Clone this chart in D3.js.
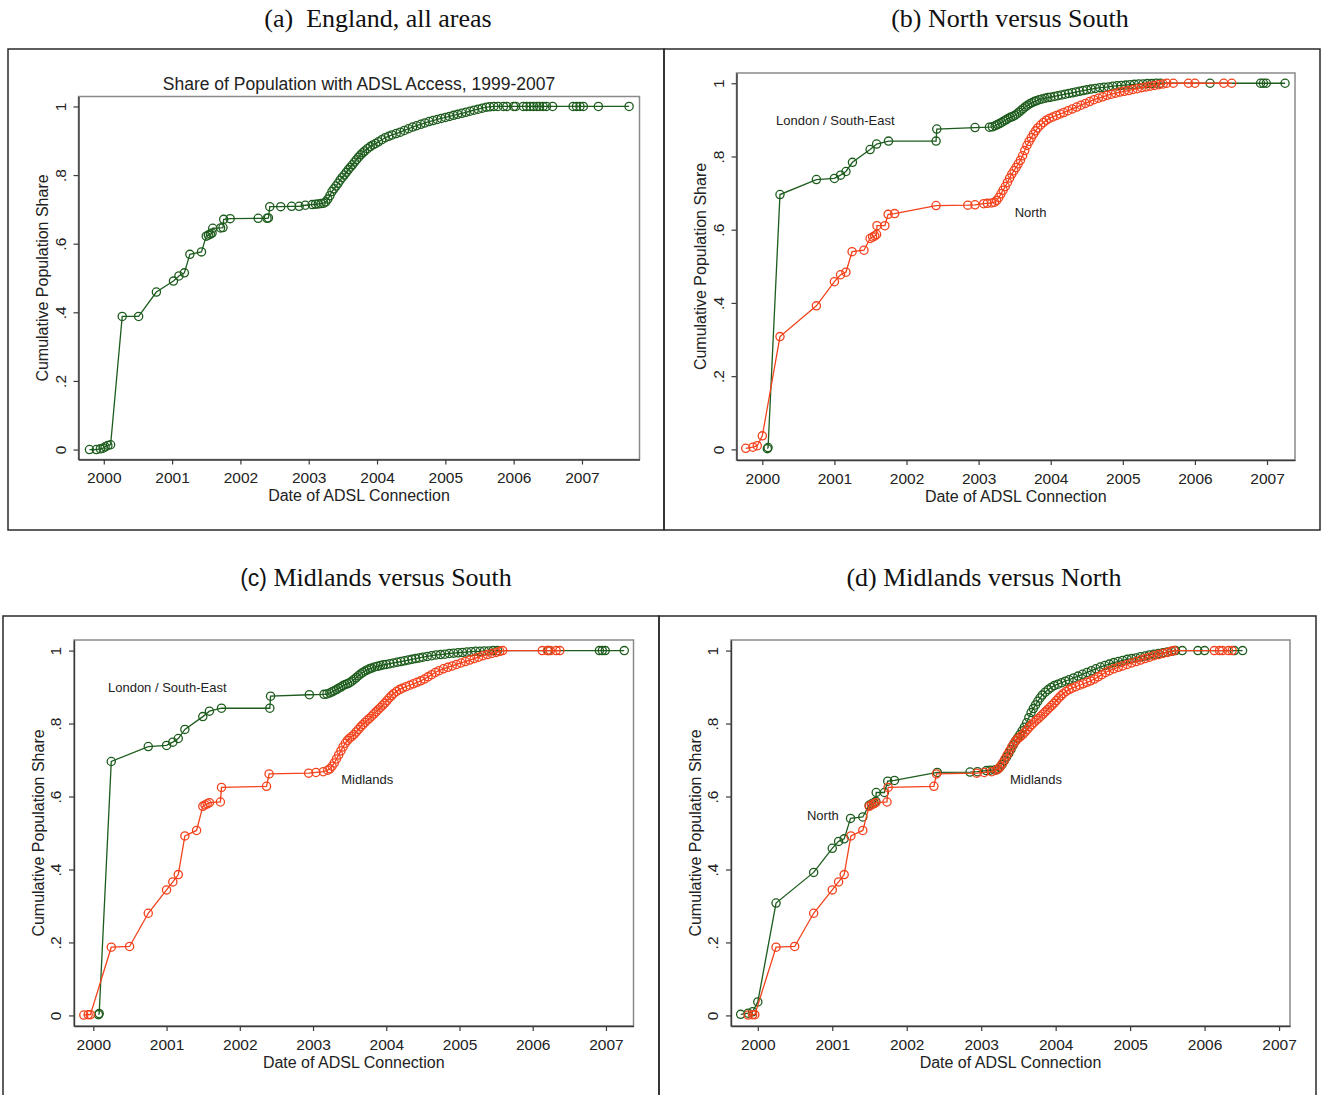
<!DOCTYPE html>
<html>
<head>
<meta charset="utf-8">
<script src="https://cdn.jsdelivr.net/npm/d3@7"></script>
<style>
  body { margin: 0; background: #fff; }
  svg { display: block; }
</style>
</head>
<body>
<svg id="fig" width="1325" height="1095"></svg>
<script>
// ---- Data: [date of ADSL connection (decimal year), cumulative population share] ----
const england = [
  [1999.79,0.000],[1999.89,0.000],[1999.95,0.002],[1999.99,0.004],[2000.02,0.008],[2000.06,0.012],[2000.10,0.014],
  [2000.27,0.388],[2000.51,0.388],[2000.77,0.459],[2001.02,0.491],[2001.10,0.506],[2001.18,0.515],[2001.26,0.569],
  [2001.43,0.576],[2001.50,0.622],[2001.53,0.625],[2001.56,0.628],[2001.585,0.631],[2001.595,0.645],[2001.71,0.646],
  [2001.745,0.647],[2001.755,0.671],[2001.85,0.673],[2002.26,0.674],[2002.39,0.674],[2002.41,0.675],[2002.43,0.708],
  [2002.59,0.708],[2002.75,0.709],[2002.86,0.709],[2002.95,0.712],[2003.05,0.714],[2003.10,0.715],[2003.14,0.716],
  [2003.18,0.717],[2003.22,0.718],[2003.25,0.722],
  [2003.28,0.730],[2003.31,0.740],[2003.34,0.752],[2003.37,0.760],[2003.40,0.768],[2003.43,0.776],[2003.46,0.785],
  [2003.49,0.793],[2003.52,0.800],[2003.55,0.808],[2003.58,0.816],[2003.61,0.823],[2003.64,0.830],[2003.67,0.838],
  [2003.70,0.845],[2003.73,0.852],[2003.76,0.859],[2003.79,0.865],[2003.82,0.870],[2003.86,0.877],[2003.90,0.883],
  [2003.94,0.888],[2003.98,0.892],[2004.02,0.897],[2004.07,0.903],[2004.12,0.909],[2004.17,0.913],[2004.22,0.917],
  [2004.28,0.921],[2004.34,0.925],[2004.40,0.930],[2004.46,0.935],[2004.52,0.940],[2004.58,0.944],[2004.64,0.948],
  [2004.70,0.952],[2004.76,0.956],[2004.82,0.959],[2004.88,0.962],[2004.94,0.965],[2005.00,0.968],[2005.06,0.971],
  [2005.12,0.974],[2005.18,0.977],[2005.24,0.980],[2005.30,0.983],[2005.36,0.986],[2005.42,0.989],[2005.48,0.992],
  [2005.54,0.995],[2005.60,0.998],
  [2005.65,0.999],[2005.71,1],[2005.77,1],[2005.85,1],[2005.90,1],[2006.00,1],[2006.03,1],[2006.14,1],[2006.19,1],
  [2006.24,1],[2006.29,1],[2006.34,1],[2006.38,1],[2006.43,1],[2006.48,1],[2006.57,1],[2006.87,1],[2006.92,1],
  [2006.97,1],[2007.02,1],[2007.24,1],[2007.69,1]
];

const south = [
  [2000.07,0.002],[2000.08,0.005],[2000.245,0.696],[2000.75,0.737],[2001.00,0.740],[2001.085,0.749],[2001.16,0.759],
  [2001.25,0.784],[2001.495,0.819],[2001.585,0.834],[2001.75,0.842],[2002.41,0.842],[2002.42,0.875],[2002.95,0.879],
  [2003.15,0.880],[2003.19,0.881],[2003.23,0.884],
  [2003.26,0.887],[2003.29,0.890],[2003.32,0.893],[2003.35,0.897],[2003.38,0.900],[2003.41,0.904],[2003.44,0.907],
  [2003.47,0.909],[2003.50,0.912],[2003.53,0.916],[2003.56,0.921],[2003.59,0.926],[2003.62,0.931],[2003.65,0.936],
  [2003.68,0.940],[2003.71,0.944],[2003.74,0.947],[2003.77,0.950],[2003.80,0.952],[2003.84,0.955],[2003.88,0.957],
  [2003.92,0.959],[2003.96,0.961],[2004.00,0.962],[2004.05,0.964],[2004.10,0.966],[2004.15,0.968],[2004.20,0.970],
  [2004.25,0.972],[2004.30,0.974],[2004.35,0.976],[2004.40,0.978],[2004.45,0.980],[2004.50,0.982],[2004.56,0.984],
  [2004.62,0.986],[2004.68,0.988],[2004.74,0.989],[2004.80,0.990],[2004.86,0.992],[2004.92,0.993],[2004.98,0.994],
  [2005.04,0.995],[2005.10,0.996],[2005.16,0.997],[2005.22,0.998],[2005.28,0.998],[2005.34,0.999],[2005.40,0.999],
  [2005.46,1],[2005.52,1],
  [2006.21,1],[2006.91,1],[2006.95,1],[2006.99,1],[2007.25,1]
];

const north = [
  [1999.77,0.003],[1999.87,0.006],[1999.93,0.010],[2000.00,0.037],[2000.245,0.308],[2000.75,0.392],[2001.00,0.458],
  [2001.085,0.477],[2001.16,0.484],[2001.245,0.540],[2001.41,0.544],[2001.495,0.576],[2001.53,0.580],[2001.56,0.583],
  [2001.585,0.587],[2001.59,0.611],[2001.70,0.611],[2001.745,0.642],[2001.835,0.644],[2002.41,0.666],[2002.85,0.667],
  [2002.95,0.668],[2003.07,0.671],[2003.12,0.672],[2003.18,0.673],[2003.22,0.675],
  [2003.25,0.680],[2003.28,0.688],[2003.31,0.698],[2003.34,0.708],[2003.37,0.718],[2003.40,0.729],[2003.43,0.741],
  [2003.46,0.752],[2003.49,0.761],[2003.52,0.770],[2003.55,0.780],[2003.58,0.790],[2003.61,0.802],[2003.64,0.816],
  [2003.67,0.830],[2003.70,0.841],[2003.73,0.851],[2003.76,0.861],[2003.79,0.870],[2003.82,0.878],[2003.86,0.886],
  [2003.90,0.893],[2003.94,0.899],[2003.98,0.904],[2004.03,0.908],[2004.08,0.912],[2004.13,0.916],[2004.18,0.920],
  [2004.24,0.925],[2004.30,0.930],[2004.36,0.935],[2004.42,0.940],[2004.48,0.945],[2004.54,0.950],[2004.60,0.955],
  [2004.66,0.959],[2004.72,0.963],[2004.78,0.967],[2004.84,0.970],[2004.90,0.973],[2004.96,0.976],[2005.02,0.978],
  [2005.08,0.980],[2005.14,0.983],[2005.20,0.985],[2005.26,0.988],[2005.32,0.990],[2005.38,0.992],[2005.44,0.994],
  [2005.50,0.996],[2005.56,0.998],[2005.61,1],
  [2005.70,1],[2005.91,1],[2006.00,1],[2006.40,1],[2006.51,1]
];

const midlands = [
  [1999.87,0.001],[1999.93,0.002],[1999.96,0.002],[2000.245,0.187],[2000.495,0.189],[2000.75,0.280],[2001.00,0.344],
  [2001.085,0.366],[2001.16,0.386],[2001.25,0.492],[2001.41,0.507],[2001.495,0.573],[2001.525,0.577],[2001.555,0.580],
  [2001.585,0.583],[2001.735,0.585],[2001.75,0.625],[2002.365,0.628],[2002.40,0.662],[2002.94,0.664],[2003.04,0.666],
  [2003.14,0.668],[2003.20,0.672],
  [2003.23,0.676],[2003.26,0.683],[2003.29,0.692],[2003.32,0.703],[2003.35,0.714],[2003.38,0.725],[2003.41,0.736],
  [2003.44,0.746],[2003.47,0.754],[2003.50,0.760],[2003.53,0.765],[2003.56,0.770],[2003.59,0.777],[2003.62,0.784],
  [2003.65,0.791],[2003.68,0.797],[2003.71,0.803],[2003.74,0.809],[2003.77,0.814],[2003.80,0.820],[2003.83,0.826],
  [2003.86,0.832],[2003.89,0.838],[2003.92,0.844],[2003.95,0.850],[2003.98,0.856],[2004.01,0.863],[2004.04,0.870],
  [2004.07,0.876],[2004.10,0.882],[2004.14,0.888],[2004.18,0.893],[2004.22,0.897],[2004.27,0.901],[2004.32,0.905],
  [2004.37,0.909],[2004.42,0.913],[2004.47,0.917],[2004.52,0.922],[2004.57,0.928],[2004.62,0.934],[2004.67,0.940],
  [2004.72,0.945],[2004.78,0.950],[2004.84,0.954],[2004.90,0.958],[2004.96,0.962],[2005.02,0.966],[2005.08,0.970],
  [2005.14,0.974],[2005.20,0.978],[2005.26,0.982],[2005.32,0.986],[2005.38,0.989],[2005.44,0.992],[2005.50,0.995],
  [2005.55,0.998],[2005.59,1],
  [2006.13,1],[2006.20,1],[2006.24,1],[2006.32,1],[2006.37,1]
];

// ---- Axis ticks and labels ----
const yearTicks = [2000, 2001, 2002, 2003, 2004, 2005, 2006, 2007];
const shareTicks = [0, 0.2, 0.4, 0.6, 0.8, 1];
const shareTickLabels = ["0", ".2", ".4", ".6", ".8", "1"];
const panelLetters = ["(a)", "(b)", "(c)", "(d)"];
const panelTitles = ["\u00a0 England, all areas", " North versus South", " Midlands versus South", " Midlands versus North"];
const xAxisTitle = "Date of ADSL Connection";
const yAxisTitle = "Cumulative Population Share";
const chartHeading = "Share of Population with ADSL Access, 1999-2007";

// ---- Styles ----
const GREEN = "#1d5c1d";
const RED = "#f3421c";
const SANS = "'Liberation Sans', Arial, Helvetica, sans-serif";
const SERIF = "'Liberation Serif', 'Times New Roman', Times, serif";
const INK = "#222";

// ---- Panel layout ----
const panels = [
  { box: [8, 49, 664, 530], titleX: 378, titleY: 27, letterSans: false,
    frame: { l: 78.5, r: 639.5, t: 96.5, b: 459.5 }, xDom: [1999.630, 2007.842], yDom: [-0.029, 1.029],
    series: [{ data: england, color: GREEN }], heading: chartHeading, notes: [] },
  { box: [664, 49, 1320, 530], titleX: 1010, titleY: 27, letterSans: false,
    frame: { l: 736.5, r: 1295, t: 73, b: 460 }, xDom: [1999.642, 2007.388], yDom: [-0.029, 1.028],
    series: [{ data: south, color: GREEN }, { data: north, color: RED }],
    notes: [{ text: "London / South-East", at: [2000.19, 0.897] }, { text: "North", at: [2003.50, 0.648] }] },
  { box: [3, 616, 659, 1100], titleX: 376, titleY: 586, letterSans: true,
    frame: { l: 74, r: 633.5, t: 640, b: 1026 }, xDom: [1999.736, 2007.376], yDom: [-0.029, 1.029],
    series: [{ data: south, color: GREEN }, { data: midlands, color: RED }],
    notes: [{ text: "London / South-East", at: [2000.20, 0.898] }, { text: "Midlands", at: [2003.385, 0.646] }] },
  { box: [659, 616, 1316, 1100], titleX: 984, titleY: 586, letterSans: false,
    frame: { l: 731, r: 1290, t: 640, b: 1026 }, xDom: [1999.64, 2007.147], yDom: [-0.029, 1.029],
    series: [{ data: north, color: GREEN }, { data: midlands, color: RED }],
    notes: [{ text: "Midlands", at: [2003.387, 0.646] }, { text: "North", at: [2000.66, 0.547] }] }
];

const svg = d3.select("#fig");
svg.append("rect").attr("width", 1325).attr("height", 1095).attr("fill", "#fff");

panels.forEach((p, i) => {
  const g = svg.append("g").attr("class", "panel");

  // panel caption
  const cap = g.append("text")
    .attr("x", p.titleX).attr("y", p.titleY)
    .attr("text-anchor", "middle")
    .attr("font-family", SERIF).attr("font-size", 26).attr("fill", "#111");
  cap.append("tspan").attr("font-family", p.letterSans ? SANS : SERIF)
    .attr("font-size", p.letterSans ? 23 : 26).text(panelLetters[i]);
  cap.append("tspan").style("white-space", "pre").text(panelTitles[i]);

  // panel border
  const [bx0, by0, bx1, by1] = p.box;
  g.append("rect").attr("x", bx0).attr("y", by0).attr("width", bx1 - bx0).attr("height", by1 - by0)
    .attr("fill", "none").attr("stroke", "#2a2a2a").attr("stroke-width", 1.5);

  const f = p.frame;
  const xs = d3.scaleLinear().domain(p.xDom).range([f.l, f.r]);
  const ys = d3.scaleLinear().domain(p.yDom).range([f.b, f.t]);

  // plot region outline
  g.append("rect").attr("x", f.l).attr("y", f.t).attr("width", f.r - f.l).attr("height", f.b - f.t)
    .attr("fill", "#fff").attr("stroke", "#8a8a8a").attr("stroke-width", 1.5);

  // x axis
  const gx = g.append("g").attr("transform", `translate(0,${f.b})`)
    .call(d3.axisBottom(xs).tickValues(yearTicks).tickFormat(d3.format("d")).tickSize(5).tickSizeOuter(0));
  gx.select(".domain").attr("stroke", "#3a3a3a").attr("stroke-width", 1.4);
  gx.selectAll(".tick line").attr("stroke", "#3a3a3a").attr("stroke-width", 1.2);
  gx.selectAll(".tick text").attr("y", 23.5).attr("dy", 0)
    .attr("font-family", SANS).attr("font-size", 15.5).attr("fill", INK);

  // y axis with vertical tick labels
  const gy = g.append("g").attr("transform", `translate(${f.l},0)`)
    .call(d3.axisLeft(ys).tickValues(shareTicks).tickFormat((d, k) => shareTickLabels[k]).tickSize(5).tickSizeOuter(0));
  gy.select(".domain").attr("stroke", "#3a3a3a").attr("stroke-width", 1.4);
  gy.selectAll(".tick line").attr("stroke", "#3a3a3a").attr("stroke-width", 1.2);
  gy.selectAll(".tick text")
    .attr("transform", "rotate(-90)").attr("x", 0).attr("y", -13).attr("dy", 0)
    .attr("text-anchor", "middle")
    .attr("font-family", SANS).attr("font-size", 15.5).attr("fill", INK);

  // axis titles
  g.append("text").attr("x", (f.l + f.r) / 2).attr("y", f.b + 41.5)
    .attr("text-anchor", "middle").attr("font-family", SANS).attr("font-size", 16).attr("fill", INK)
    .text(xAxisTitle);
  const ty = (f.t + f.b) / 2;
  g.append("text").attr("transform", `translate(${f.l - 30.5},${ty}) rotate(-90)`)
    .attr("text-anchor", "middle").attr("font-family", SANS).attr("font-size", 16).attr("fill", INK)
    .text(yAxisTitle);

  // heading inside panel (a)
  if (p.heading) {
    g.append("text").attr("x", (f.l + f.r) / 2).attr("y", f.t - 6.5)
      .attr("text-anchor", "middle").attr("font-family", SANS).attr("font-size", 17.5).attr("fill", INK)
      .text(p.heading);
  }

  // connected hollow-circle series
  const line = d3.line().x(d => xs(d[0])).y(d => ys(d[1]));
  p.series.forEach(s => {
    const sg = g.append("g");
    sg.append("path").attr("d", line(s.data)).attr("fill", "none")
      .attr("stroke", s.color).attr("stroke-width", 1.3);
    sg.selectAll("circle").data(s.data).enter().append("circle")
      .attr("cx", d => xs(d[0])).attr("cy", d => ys(d[1])).attr("r", 4.1)
      .attr("fill", "none").attr("stroke", s.color).attr("stroke-width", 1.3);
  });

  // series labels
  p.notes.forEach(n => {
    g.append("text").attr("x", xs(n.at[0])).attr("y", ys(n.at[1]))
      .attr("dominant-baseline", "central")
      .attr("font-family", SANS).attr("font-size", 13).attr("fill", INK)
      .text(n.text);
  });
});
</script>
</body>
</html>
